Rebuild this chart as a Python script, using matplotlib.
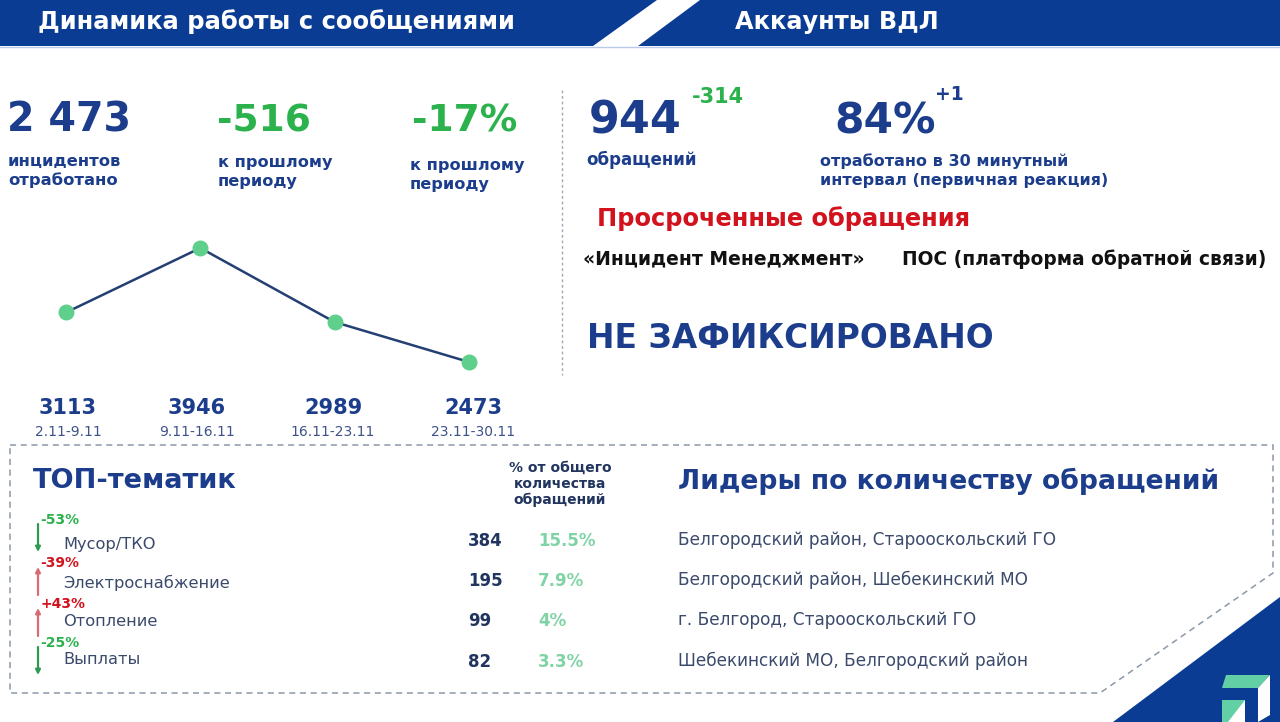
import matplotlib.pyplot as plt
from matplotlib.patches import Polygon

plt.rcParams['font.family'] = ['DejaVu Sans']

# данные
periods = ['2.11-9.11', '9.11-16.11', '16.11-23.11', '23.11-30.11']
incidents = [3113, 3946, 2989, 2473]

topics = ['Мусор/ТКО', 'Электроснабжение', 'Отопление', 'Выплаты']
topic_change = ['-53%', '-39%', '+43%', '-25%']
topic_up = [False, True, True, False]
topic_count = [384, 195, 99, 82]
topic_share = ['15.5%', '7.9%', '4%', '3.3%']
leaders = ['Белгородский район, Старооскольский ГО',
           'Белгородский район, Шебекинский МО',
           'г. Белгород, Старооскольский ГО',
           'Шебекинский МО, Белгородский район']

BLUE = '#0b3c93'
NAVY = '#1c3d8c'
DARK = '#22355f'
GREEN = '#2bb24c'
LGREEN = '#7fd3a5'
RED = '#d2121c'

fig = plt.figure(figsize=(12.8, 7.22), dpi=100)
ax = fig.add_axes([0, 0, 1, 1])
ax.set_xlim(0, 1280)
ax.set_ylim(722, 0)
ax.axis('off')

# шапка
ax.add_patch(Polygon([(0, 0), (657, 0), (593, 46), (0, 46)], color=BLUE, lw=0))
ax.add_patch(Polygon([(700, 0), (1280, 0), (1280, 46), (638, 46)], color=BLUE, lw=0))
ax.plot([0, 1280], [47, 47], color='#b9cbe8', lw=1)
ax.text(38, 22, 'Динамика работы с сообщениями', color='white', fontsize=17.5,
        fontweight='bold', va='center')
ax.text(735, 22, 'Аккаунты ВДЛ', color='white', fontsize=17.3,
        fontweight='bold', va='center')

# уголок с логотипом
ax.add_patch(Polygon([(1113, 722), (1280, 597), (1280, 722)], color=BLUE, lw=0))
ax.add_patch(Polygon([(1226, 675), (1270, 675), (1258, 688), (1222, 688)], color='#62d0a4', lw=0))
ax.add_patch(Polygon([(1270, 675), (1270, 715), (1258, 722), (1258, 688)], color='white', lw=0))
ax.add_patch(Polygon([(1222, 700), (1245, 700), (1245, 722), (1222, 722)], color='#62d0a4', lw=0))
ax.add_patch(Polygon([(1245, 700), (1245, 722), (1228, 722)], color='white', lw=0))

# пунктирные рамки
dash = dict(color='#8c98a8', lw=1.1, ls=(0, (4, 3)))
ax.plot([10, 1273, 1273, 1100, 10, 10], [445, 445, 573, 693, 693, 445], **dash)
ax.plot([562, 562], [90, 375], color='#a0a8b4', lw=1, ls=(0, (2, 2)))

# ключевые цифры слева
ax.text(7, 121, '2 473', color=NAVY, fontsize=28.5, fontweight='bold', va='center')
ax.text(8, 171, 'инцидентов\nотработано', color=NAVY, fontsize=11.8, fontweight='bold',
        va='center', linespacing=1.3)
ax.text(217, 121, '-516', color=GREEN, fontsize=27, fontweight='bold', va='center')
ax.text(218, 172, 'к прошлому\nпериоду', color=NAVY, fontsize=11.6, fontweight='bold',
        va='center', linespacing=1.3)
ax.text(412, 121, '-17%', color=GREEN, fontsize=27, fontweight='bold', va='center')
ax.text(410, 175, 'к прошлому\nпериоду', color=NAVY, fontsize=11.6, fontweight='bold',
        va='center', linespacing=1.3)

# линия динамики
lax = fig.add_axes([66 / 1280, 1 - 362 / 722, 403 / 1280, 114 / 722])
x = range(len(incidents))
lax.plot(x, incidents, color='#243f73', lw=1.8, zorder=2)
lax.scatter(x, incidents, s=110, color='#5fcf8c', zorder=3, clip_on=False)
lax.set_xlim(0, 3)
lax.set_ylim(min(incidents), max(incidents))
lax.axis('off')

centers = [68, 197, 333, 473]
for cx, v, p in zip(centers, incidents, periods):
    ax.text(cx, 408, str(v), color=NAVY, fontsize=15, fontweight='bold', ha='center', va='center')
    ax.text(cx, 432, p, color='#3d5288', fontsize=10, ha='center', va='center')

# аккаунты ВДЛ
ax.text(589, 121, '944', color=NAVY, fontsize=32, fontweight='bold', va='center')
ax.text(692, 97, '-314', color=GREEN, fontsize=15, fontweight='bold', va='center')
ax.text(586, 160, 'обращений', color=NAVY, fontsize=12, fontweight='bold', va='center')
ax.text(834, 121, '84%', color=NAVY, fontsize=30.5, fontweight='bold', va='center')
ax.text(935, 95, '+1', color=NAVY, fontsize=13.5, fontweight='bold', va='center')
ax.text(820, 171, 'отработано в 30 минутный\nинтервал (первичная реакция)', color=NAVY,
        fontsize=11.5, fontweight='bold', va='center', linespacing=1.35)
ax.text(597, 219, 'Просроченные обращения', color=RED, fontsize=17.4, fontweight='bold', va='center')
ax.text(583, 259, '«Инцидент Менеджмент»', color='#111111', fontsize=13.5, fontweight='bold', va='center')
ax.text(902, 259, 'ПОС (платформа обратной связи)', color='#111111', fontsize=13.4,
        fontweight='bold', va='center')
ax.text(587, 338, 'НЕ ЗАФИКСИРОВАНО', color=NAVY, fontsize=23.7, fontweight='bold', va='center')

# ТОП-тематик
ax.text(33, 481, 'ТОП-тематик', color=NAVY, fontsize=19.6, fontweight='bold', va='center')
ax.text(560, 484, '% от общего\nколичества\nобращений', color=DARK, fontsize=10,
        fontweight='bold', ha='center', va='center', linespacing=1.2)
ax.text(678, 481, 'Лидеры по количеству обращений', color=NAVY, fontsize=19.2,
        fontweight='bold', va='center')

topic_y = [545, 583, 621, 659]
value_y = [541, 581, 621, 662]
change_y = [520, 563, 604, 643]
for i in range(len(topics)):
    col = '#d86a72' if topic_up[i] else '#2f9a52'
    tcol = RED if topic_up[i] else GREEN
    top, bottom = change_y[i] + 4, change_y[i] + 32
    arrow = dict(arrowstyle='-|>', color=col, lw=1.6, mutation_scale=7, shrinkA=0, shrinkB=0)
    if topic_up[i]:
        ax.annotate('', xy=(38, top), xytext=(38, bottom), arrowprops=arrow)
    else:
        ax.annotate('', xy=(38, bottom), xytext=(38, top), arrowprops=arrow)
    ax.text(40, change_y[i], topic_change[i], color=tcol, fontsize=10, fontweight='bold', va='center')
    ax.text(63, topic_y[i], topics[i], color='#3b4a6b', fontsize=11.7, va='center')
    ax.text(468, value_y[i], str(topic_count[i]), color=DARK, fontsize=12, fontweight='bold', va='center')
    ax.text(538, value_y[i], topic_share[i], color=LGREEN, fontsize=12, fontweight='bold', va='center')
    ax.text(678, value_y[i] - 1, leaders[i], color='#3b4a6b', fontsize=12.2, va='center')

fig.savefig('out.png', dpi=100)
